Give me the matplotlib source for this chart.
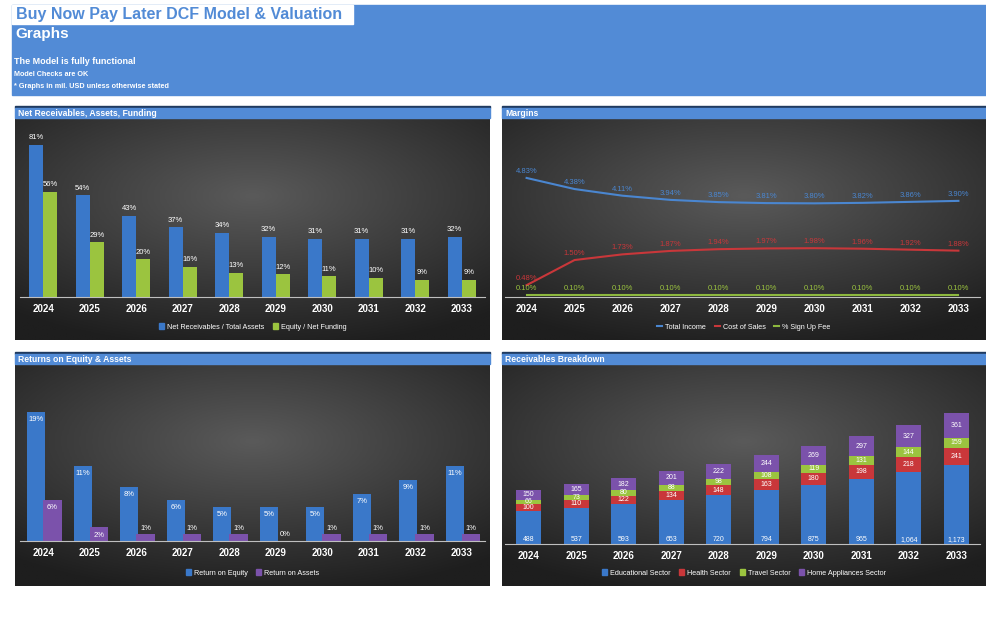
import numpy as np
import matplotlib
matplotlib.use("Agg")
import matplotlib.pyplot as plt
from matplotlib.patches import Rectangle, Patch
from matplotlib.lines import Line2D

years = ["2024","2025","2026","2027","2028","2029","2030","2031","2032","2033"]
nr_ta = [81,54,43,37,34,32,31,31,31,32]
eq_nf = [56,29,20,16,13,12,11,10,9,9]
total_income = [4.83,4.38,4.11,3.94,3.85,3.81,3.80,3.82,3.86,3.90]
cost_sales = [0.48,1.50,1.73,1.87,1.94,1.97,1.98,1.96,1.92,1.88]
signup_fee = [0.10]*10
roe = [19,11,8,6,5,5,5,7,9,11]
roa = [6,2,1,1,1,0,1,1,1,1]
edu = [488,537,593,653,720,794,875,965,1064,1173]
health = [100,110,122,134,148,163,180,198,218,241]
travel = [66,73,80,88,98,108,119,131,144,159]
home = [150,165,182,201,222,244,269,297,327,361]

W, H = 986, 631
fig = plt.figure(figsize=(W/100, H/100), dpi=100)
fig.patch.set_facecolor("white")
F = "Liberation Sans"
BLUE = "#528bd6"

def ax_px(x0, y0, x1, y1, **kw):
    return fig.add_axes([x0/W, 1-y1/H, (x1-x0)/W, (y1-y0)/H], **kw)

def rect(x0, y0, x1, y1, color, z=0):
    fig.patches.append(Rectangle((x0/W, 1-y1/H), (x1-x0)/W, (y1-y0)/H,
                                 transform=fig.transFigure, color=color, zorder=z))

# header
rect(12, 5, 986, 95, BLUE)
rect(12, 5, 353, 24, "white", 1)
fig.text(16/W, 1-15/H, "Buy Now Pay Later DCF Model & Valuation", family=F, weight="bold",
         color=BLUE, fontsize=11.5, va="center", zorder=3)
fig.text(15/W, 1-34/H, "Graphs", family=F, weight="bold", color="white", fontsize=11, va="center")
fig.text(14/W, 1-62/H, "The Model is fully functional", family=F, weight="bold", color="white", fontsize=6.5, va="center")
fig.text(14/W, 1-74/H, "Model Checks are OK", family=F, weight="bold", color="white", fontsize=5.2, va="center")
fig.text(14/W, 1-86/H, "* Graphs in mil. USD unless otherwise stated", family=F, weight="bold", color="white", fontsize=5.2, va="center")

yy, xx = np.mgrid[-1:1:200j, -1:1:300j]
grad = np.sqrt(xx**2*0.8 + (yy+0.3)**2)
grad = np.clip(grad, 0, 1.4)

def panel(x0, y0, x1, y1, title):
    rect(x0, y0, x1, y0+2, "#1f3a5f", 1)
    rect(x0, y0+2, x1, y0+12, BLUE, 1)
    fig.text((x0+3)/W, 1-(y0+7)/H, title, family=F, weight="bold", color="white", fontsize=6.2, va="center", zorder=3)
    bg = ax_px(x0, y0+12, x1, y1)
    bg.imshow(grad, cmap=matplotlib.colors.LinearSegmentedColormap.from_list("g", ["#5a5a5a", "#1e1e1e"]),
              aspect="auto", extent=[0, 1, 0, 1], vmin=0, vmax=1.4)
    bg.axis("off")

def style(ax, ymax):
    ax.set_facecolor("none")
    for s in ["top", "right", "left"]:
        ax.spines[s].set_visible(False)
    ax.spines["bottom"].set_color("#bfbfbf")
    ax.set_yticks([])
    ax.set_ylim(0, ymax)
    ax.set_xlim(-0.5, 9.5)
    ax.set_xticks(range(10))
    ax.set_xticklabels(years, family=F, weight="bold", color="white", fontsize=7)
    ax.tick_params(axis="x", length=0, pad=5)

def legend(ax, handles, labels, ypx, x0, x1):
    fig.legend(handles, labels, loc="center", bbox_to_anchor=((x0+x1)/2/W, 1-ypx/H), ncol=len(labels),
               frameon=False, prop={"family": F, "size": 5.2}, labelcolor="white",
               handlelength=0.7, handleheight=0.7, columnspacing=1.2, handletextpad=0.4)

C1, C2, C3, C4 = "#3a78c9", "#9bc43f", "#7b52ab", "#c9373a"
x = np.arange(10)

# Panel 1
panel(15, 106, 490, 340, "Net Receivables, Assets, Funding")
ax = ax_px(20, 122, 485, 297)
style(ax, 93)
w = 0.3
ax.bar(x-w/2, nr_ta, w, color=C1)
ax.bar(x+w/2, eq_nf, w, color=C2)
for i in range(10):
    ax.text(x[i]-w/2, nr_ta[i]+2, f"{nr_ta[i]}%", ha="center", va="bottom", color="white", fontsize=5.5, family=F)
    ax.text(x[i]+w/2, eq_nf[i]+2, f"{eq_nf[i]}%", ha="center", va="bottom", color="white", fontsize=5.5, family=F)
legend(ax, [Patch(color=C1), Patch(color=C2)], ["Net Receivables / Total Assets", "Equity / Net Funding"], 327, 15, 490)

# Panel 2
panel(502, 106, 986, 340, "Margins")
ax = ax_px(505, 122, 980, 297)
style(ax, 7.1)
ax.set_xlim(-0.45, 9.45)
ax.plot(x, total_income, color="#4a86d0", lw=1.5)
ax.plot(x, cost_sales, color="#c9373a", lw=1.5)
ax.plot(x, signup_fee, color="#8db83e", lw=1.5)
for i in range(10):
    ax.text(x[i], total_income[i]+0.12, f"{total_income[i]:.2f}%", ha="center", va="bottom", color="#4a86d0", fontsize=5.5, family=F)
    ax.text(x[i], cost_sales[i]+0.12, f"{cost_sales[i]:.2f}%", ha="center", va="bottom", color="#c9373a", fontsize=5.5, family=F)
    ax.text(x[i], signup_fee[i]+0.12, f"{signup_fee[i]:.2f}%", ha="center", va="bottom", color="#9bc43f", fontsize=5.5, family=F)
legend(ax, [Line2D([], [], color="#4a86d0"), Line2D([], [], color="#c9373a"), Line2D([], [], color="#8db83e")],
       ["Total Income", "Cost of Sales", "% Sign Up Fee"], 327, 502, 986)

# Panel 3
panel(15, 352, 490, 586, "Returns on Equity & Assets")
ax = ax_px(20, 368, 485, 541)
style(ax, 25.5)
ax.bar(x-w/2, roe, w*1.3, color=C1)
ax.bar(x+w/2+0.05, roa, w*1.3, color=C3)
for i in range(10):
    ax.text(x[i]-w/2, roe[i]-0.6, f"{roe[i]}%", ha="center", va="top", color="white", fontsize=5.5, family=F)
    ax.text(x[i]+w/2+0.05, roa[i]-0.6 if roa[i] > 1 else roa[i]+0.4, f"{roa[i]}%", ha="center",
            va="top" if roa[i] > 1 else "bottom", color="white", fontsize=5.5, family=F)
legend(ax, [Patch(color=C1), Patch(color=C3)], ["Return on Equity", "Return on Assets"], 573, 15, 490)

# Panel 4
panel(502, 352, 986, 586, "Receivables Breakdown")
ax = ax_px(505, 368, 980, 544)
style(ax, 2600)
bw = 0.52
b = np.zeros(10)
for vals, col in [(edu, C1), (health, C4), (travel, C2), (home, C3)]:
    ax.bar(x, vals, bw, bottom=b, color=col)
    b = b + np.array(vals)
b = np.zeros(10)
for k, (vals, col) in enumerate([(edu, C1), (health, C4), (travel, C2), (home, C3)]):
    for i in range(10):
        yv = 65 if k == 0 else b[i] + vals[i]/2
        ax.text(x[i], yv, f"{vals[i]:,}", ha="center", va="center", color="white", fontsize=5, family=F)
    b = b + np.array(vals)
legend(ax, [Patch(color=C1), Patch(color=C4), Patch(color=C2), Patch(color=C3)],
       ["Educational Sector", "Health Sector", "Travel Sector", "Home Appliances Sector"], 573, 502, 986)

fig.savefig("out.png", dpi=100, facecolor="white")
